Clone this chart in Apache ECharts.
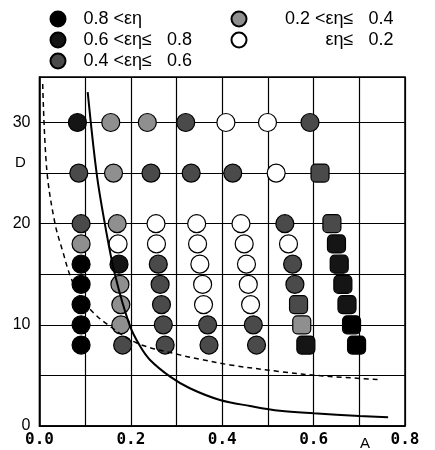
<!DOCTYPE html>
<html>
<head>
<meta charset="utf-8">
<script src="https://cdn.jsdelivr.net/npm/echarts@6/dist/echarts.min.js"></script>
<style>
html,body{margin:0;padding:0;background:#fff;}
#chart{width:435px;height:450px;}
</style>
</head>
<body>
<div id="chart"></div>
<script>
// ---- data ----
const classNames = ['0.8 <εη', '0.6 <εη≤   0.8', '0.4 <εη≤   0.6', '0.2 <εη≤   0.4', 'εη≤   0.2'];
const rowD = [30, 25, 20, 18, 16, 14, 12, 10, 8];
const rowA = [
  [0.083, 0.156, 0.236, 0.320, 0.408, 0.499, 0.592],
  [0.086, 0.162, 0.244, 0.332, 0.423, 0.518, 0.614],
  [0.091, 0.170, 0.255, 0.344, 0.441, 0.537, 0.640],
  [0.091, 0.172, 0.256, 0.346, 0.448, 0.545, 0.650],
  [0.091, 0.174, 0.260, 0.351, 0.453, 0.554, 0.656],
  [0.091, 0.176, 0.264, 0.357, 0.457, 0.559, 0.664],
  [0.091, 0.178, 0.267, 0.359, 0.462, 0.567, 0.673],
  [0.091, 0.178, 0.271, 0.368, 0.468, 0.574, 0.683],
  [0.091, 0.182, 0.275, 0.371, 0.475, 0.583, 0.694]
];
// class index: 0 = 0.8<, 1 = 0.6-0.8, 2 = 0.4-0.6, 3 = 0.2-0.4, 4 = <=0.2
const rowClass = [
  [1, 3, 3, 2, 4, 4, 2],
  [2, 3, 2, 2, 2, 4, 2],
  [2, 3, 4, 4, 4, 2, 2],
  [3, 4, 4, 4, 4, 4, 1],
  [0, 1, 2, 4, 4, 2, 1],
  [0, 3, 2, 4, 4, 2, 1],
  [0, 3, 2, 4, 4, 2, 1],
  [0, 3, 2, 2, 2, 3, 0],
  [0, 2, 2, 2, 2, 1, 0]
];
const solidA = [0.1055, 0.125, 0.143, 0.165, 0.197, 0.220, 0.242, 0.286, 0.329, 0.395, 0.461, 0.526, 0.600, 0.700, 0.763];
const solidD = [33.0, 25.0, 20.0, 15.0, 10.0, 7.9, 6.53, 4.88, 3.73, 2.57, 1.98, 1.51, 1.26, 1.00, 0.86];
const dashedA = [0.007, 0.016, 0.034, 0.052, 0.066, 0.088, 0.118, 0.150, 0.213, 0.307, 0.351, 0.417, 0.526, 0.620, 0.740];
const dashedD = [33.8, 25.3, 20.0, 17.1, 15.0, 12.8, 11.2, 10.0, 8.2, 7.03, 6.6, 6.04, 5.38, 4.95, 4.6];
const xTickLabels = ['0.0', '0.2', '0.4', '0.6', '0.8'];
const yTickLabels = [0, 10, 20, 30];

// ---- styles (kept apart from data) ----
const classColors = ['#000000', '#151515', '#4a4a4a', '#8f8f8f', '#ffffff'];
const roundedMarks = [[1,6],[2,6],[3,6],[4,6],[5,6],[6,6],[7,6],[8,6],[6,5],[7,5],[8,5]];
const isRounded = (r, c) => roundedMarks.some(m => m[0] === r && m[1] === c);

const scatterSeries = classNames.map((name, k) => {
  const data = [];
  rowD.forEach((d, r) => {
    rowA[r].forEach((a, c) => {
      if (rowClass[r][c] === k) {
        const item = { value: [a, d] };
        if (isRounded(r, c)) item.symbol = 'roundRect';
        data.push(item);
      }
    });
  });
  return {
    name: name,
    type: 'scatter',
    symbol: 'circle',
    symbolSize: 18,
    z: 2,
    itemStyle: { color: classColors[k], borderColor: '#000', borderWidth: 1.2, opacity: 1 },
    emphasis: { disabled: true },
    data: data
  };
});

const solidSeries = {
  name: 'solid', type: 'line', smooth: 0.35, symbol: 'none', z: 4,
  lineStyle: { color: '#000', width: 2 },
  data: solidA.map((a, i) => [a, solidD[i]])
};
const dashedSeries = {
  name: 'dashed', type: 'line', smooth: 0.35, symbol: 'none', z: 4,
  lineStyle: { color: '#000', width: 1.5, type: [5, 4] },
  data: dashedA.map((a, i) => [a, dashedD[i]])
};

const legendFont = { fontSize: 18, fontFamily: 'Liberation Sans', color: '#000' };

const chart = echarts.init(document.getElementById('chart'), null, { renderer: 'canvas' });
chart.setOption({
  animation: false,
  backgroundColor: '#fff',
  grid: { left: 39.5, right: 30, top: 77, bottom: 24, show: true, borderColor: '#000', borderWidth: 1.5 },
  legend: [
    {
      orient: 'vertical', left: 49.5, top: 10, padding: 0, itemWidth: 15, itemHeight: 15, itemGap: 3,
      selectedMode: false,
      data: classNames.slice(0, 3).map(n => ({ name: n, icon: 'circle' })),
      formatter: n => '{a|' + n + '}',
      textStyle: Object.assign({}, legendFont, {
        rich: { a: Object.assign({}, legendFont, { padding: [0, 0, 0, 13] }) } })
    },
    {
      orient: 'vertical', left: 230.5, top: 10, padding: 0, itemWidth: 15, itemHeight: 15, itemGap: 3,
      selectedMode: false,
      data: classNames.slice(3).map(n => ({ name: n, icon: 'circle' })),
      formatter: n => '{r|' + n + '}',
      textStyle: Object.assign({}, legendFont, {
        rich: { r: Object.assign({}, legendFont, { width: 126, align: 'right', padding: [0, 0, 0, 16] }) } })
    }
  ],
  xAxis: {
    type: 'value', min: 0, max: 0.8, interval: 0.1,
    axisLine: { show: true, lineStyle: { color: '#000', width: 1.5 } },
    axisTick: { show: false },
    splitLine: { show: true, lineStyle: { color: '#000', width: 1.2 } },
    axisLabel: {
      margin: 6, color: '#000', fontSize: 16, fontWeight: 'bold', fontFamily: 'DejaVu Sans Mono',
      formatter: v => { const s = v.toFixed(1); return xTickLabels.includes(s) ? s : ''; }
    }
  },
  yAxis: {
    type: 'value', min: 0, max: 34.5, interval: 5,
    axisLine: { show: true, lineStyle: { color: '#000', width: 1.5 } },
    axisTick: { show: false },
    splitLine: { show: true, lineStyle: { color: '#000', width: 1.2 } },
    axisLabel: {
      margin: 9, color: '#000', fontSize: 16, fontFamily: 'Liberation Sans',
      formatter: v => yTickLabels.includes(v) ? String(v) : ''
    }
  },
  graphic: [
    { type: 'text', left: 15, top: 155, style: { text: 'D', fontSize: 15, fontFamily: 'Liberation Sans', fill: '#000' } },
    { type: 'text', left: 360, top: 436, style: { text: 'A', fontSize: 15, fontFamily: 'Liberation Sans', fill: '#000' } }
  ],
  series: scatterSeries.concat([dashedSeries, solidSeries])
});
</script>
</body>
</html>
